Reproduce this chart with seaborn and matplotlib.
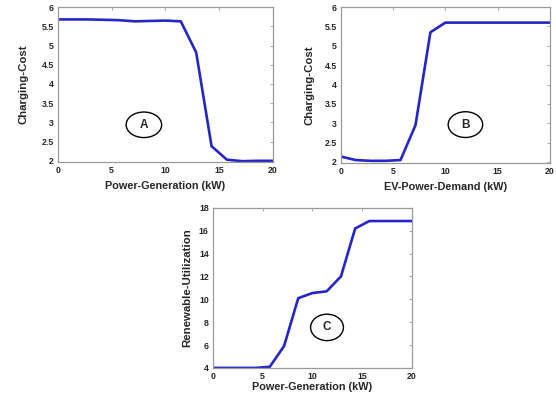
"""
plot.py

Three-panel line chart: charging cost and renewable utilization
versus power generation / EV power demand.
"""

import matplotlib
matplotlib.use("Agg")
import numpy as np
import pandas as pd
import seaborn as sns
import matplotlib.pyplot as plt
from matplotlib.patches import Ellipse


# sample positions (kW), shared by all three panels
power_kw = [0, 1.43, 2.86, 4.29, 5.71, 7.14, 8.57, 10,
            11.43, 12.86, 14.29, 15.71, 17.14, 18.57, 20]

# panel A: charging cost vs power generation
cost_vs_generation = [5.68, 5.68, 5.68, 5.67, 5.66, 5.63, 5.64, 5.65,
                      5.63, 4.82, 2.38, 2.03, 1.99, 2.0, 2.0]

# panel B: charging cost vs EV power demand
cost_vs_demand = [2.14, 2.05, 2.03, 2.03, 2.05, 2.95, 5.35, 5.6,
                  5.6, 5.6, 5.6, 5.6, 5.6, 5.6, 5.6]

# panel C: renewable utilization vs power generation
renewable_util = [4, 4, 4, 4, 4.1, 5.9, 10.1, 10.55,
                  10.7, 12.0, 16.2, 16.85, 16.85, 16.85, 16.85]

cost_ticks = [2, 2.5, 3, 3.5, 4, 4.5, 5, 5.5, 6]
util_ticks = [4, 6, 8, 10, 12, 14, 16, 18]
x_ticks = [0, 5, 10, 15, 20]

LINE_COLOR = "#2626c8"
SPINE_COLOR = "#9a9a9a"


def fmt(v):
    return f"{v:g}"


def style_panel(ax, yticks, ylim, xlabel, ylabel, tag, tag_pos, xpad, ypad):
    ax.set_xlim(0, 20)
    ax.set_ylim(*ylim)
    ax.set_xticks(x_ticks)
    ax.set_xticklabels([fmt(t) for t in x_ticks], fontsize=6.3, fontweight="bold")
    ax.set_yticks(yticks)
    ax.set_yticklabels([fmt(t) for t in yticks], fontsize=6.3, fontweight="bold")
    ax.tick_params(direction="in", length=2, width=0.6, color=SPINE_COLOR,
                   top=True, right=True, pad=3)
    for sp in ax.spines.values():
        sp.set_visible(True)
        sp.set_color(SPINE_COLOR)
        sp.set_linewidth(0.9)
    ax.set_xlabel(xlabel, fontsize=7.8, fontweight="bold", labelpad=xpad)
    ax.set_ylabel(ylabel, fontsize=8.2, fontweight="bold", labelpad=ypad)

    ell = Ellipse(tag_pos, 0.165, 0.165, transform=ax.transAxes,
                  fill=False, edgecolor="black", linewidth=1.0)
    ax.add_patch(ell)
    ax.text(tag_pos[0], tag_pos[1], tag, transform=ax.transAxes,
            ha="center", va="center", fontsize=8.5, fontweight="bold")


def main():
    sns.set_style("white")
    plt.rcParams["font.family"] = ["Liberation Sans", "DejaVu Sans"]

    df = pd.DataFrame({
        "power": power_kw,
        "cost_gen": cost_vs_generation,
        "cost_dem": cost_vs_demand,
        "renew": renewable_util,
    })

    fig = plt.figure(figsize=(5.56, 3.96), dpi=100)
    ax_a = fig.add_axes([0.104, 0.591, 0.387, 0.391])
    ax_b = fig.add_axes([0.613, 0.588, 0.376, 0.394])
    ax_c = fig.add_axes([0.383, 0.071, 0.358, 0.404])

    sns.lineplot(data=df, x="power", y="cost_gen", ax=ax_a,
                 color=LINE_COLOR, linewidth=1.9)
    sns.lineplot(data=df, x="power", y="cost_dem", ax=ax_b,
                 color=LINE_COLOR, linewidth=1.9)
    sns.lineplot(data=df, x="power", y="renew", ax=ax_c,
                 color=LINE_COLOR, linewidth=1.9)

    style_panel(ax_a, cost_ticks, (1.97, 6.0), "Power-Generation (kW)",
                "Charging-Cost", "A", (0.40, 0.24), 4, 9)
    style_panel(ax_b, cost_ticks, (1.97, 6.0), "EV-Power-Demand (kW)",
                "Charging-Cost", "B", (0.596, 0.247), 4, 7)
    style_panel(ax_c, util_ticks, (4, 18), "Power-Generation (kW)",
                "Renewable-Utilization", "C", (0.573, 0.253), 0.5, 5)

    fig.savefig("out.png", dpi=100)


if __name__ == "__main__":
    main()
